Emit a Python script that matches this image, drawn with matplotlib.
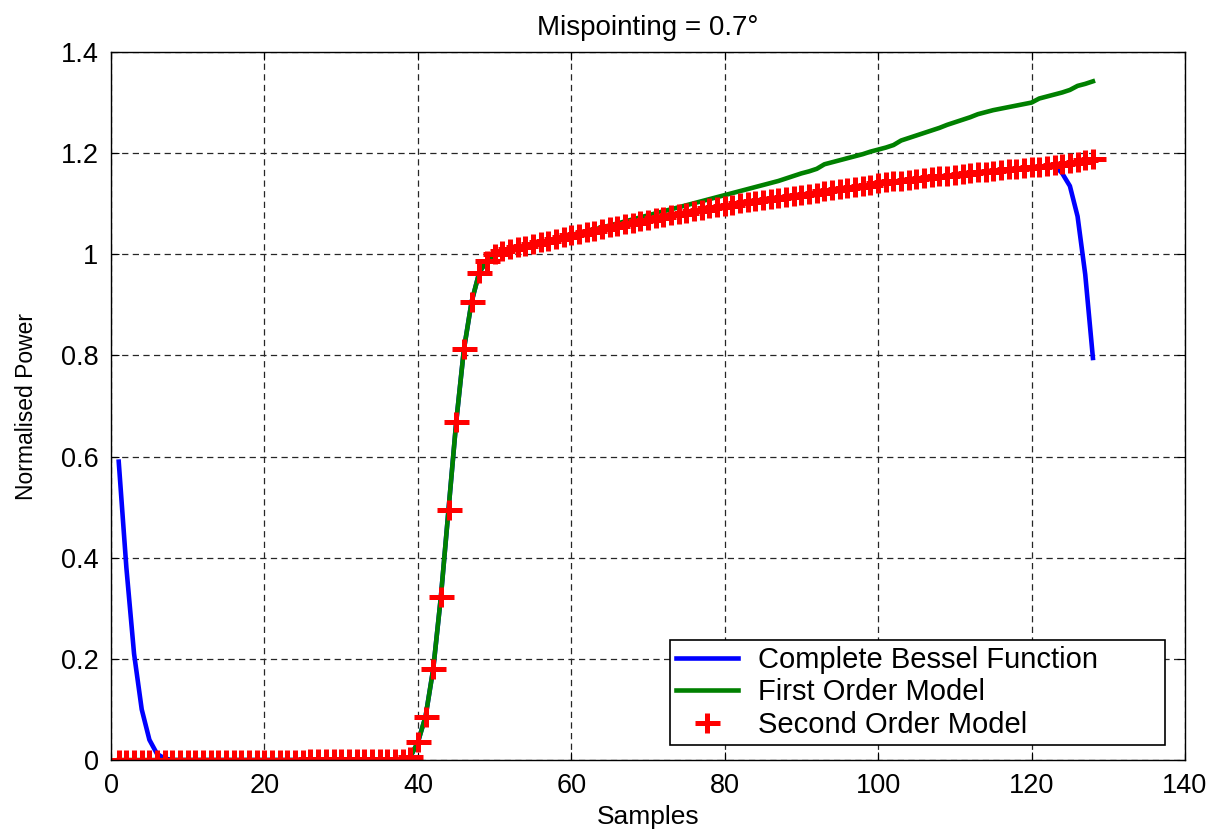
import numpy as np
import matplotlib
matplotlib.use("Agg")
import matplotlib.pyplot as plt
from matplotlib.path import Path

plt.rcParams['font.family'] = ['Liberation Sans', 'DejaVu Sans']

# --- power vs. sample index, mispointing 0.7 deg ---
samples = np.arange(1, 129)

# leading edge of the complete Bessel response (samples 1-7)
bessel_head = [0.59, 0.38, 0.21, 0.10, 0.04, 0.012, 0.003]
# noise floor before the leading edge
floor_zero = [0.0, 0.0, 0.0, 0.0, 0.0, 0.0, 0.0, 0.0, 0.0, 0.0,
              0.0, 0.0, 0.0, 0.0, 0.0, 0.0, 0.0, 0.0, 0.0, 0.0,
              0.0, 0.0, 0.0, 0.0, 0.0, 0.0, 0.0, 0.0, 0.0, 0.0,
              0.0, 0.0, 0.0, 0.0, 0.0, 0.0, 0.0, 0.0]
floor_second = [0.0, 0.0, 0.0, 0.0, 0.0, 0.0, 0.0, 0.0, 0.0, 0.0,
                0.0, 0.0, 0.0, 0.0, 0.0, 0.0, 0.0, 0.0, 0.0, 0.0,
                0.0, 0.0, 0.0, 0.0, 0.0, 0.003, 0.003, 0.003, 0.003, 0.003,
                0.003, 0.003, 0.003, 0.003, 0.003, 0.003, 0.003, 0.003]
# samples 39-49
rise = [0.006, 0.035, 0.086, 0.18, 0.323, 0.495, 0.669, 0.812, 0.906,
        0.964, 0.987]
# samples 50-123
plateau = [1.000, 1.006, 1.010, 1.014, 1.017, 1.020, 1.024, 1.027, 1.031, 1.035,
           1.038, 1.041, 1.044, 1.047, 1.050, 1.053, 1.056, 1.059, 1.062, 1.065,
           1.068, 1.071, 1.074, 1.077, 1.080, 1.082, 1.085, 1.088, 1.091, 1.093,
           1.096, 1.098, 1.101, 1.103, 1.106, 1.108, 1.110, 1.112, 1.114, 1.116,
           1.118, 1.120, 1.122, 1.125, 1.127, 1.129, 1.131, 1.133, 1.135, 1.138,
           1.140, 1.142, 1.144, 1.145, 1.147, 1.149, 1.151, 1.152, 1.154, 1.155,
           1.157, 1.159, 1.160, 1.162, 1.163, 1.165, 1.166, 1.168, 1.169, 1.171,
           1.172, 1.173, 1.175, 1.176]
# samples 124-128
bessel_tail = [1.16, 1.135, 1.075, 0.96, 0.795]
second_tail = [1.178, 1.181, 1.183, 1.186, 1.188]
# first order model, samples 61-128
first_tail = [1.042, 1.046, 1.049, 1.053, 1.057, 1.061, 1.065, 1.069, 1.073, 1.077,
              1.081, 1.085, 1.089, 1.093, 1.097, 1.101, 1.105, 1.109, 1.113, 1.117,
              1.121, 1.125, 1.129, 1.133, 1.137, 1.141, 1.145, 1.150, 1.155, 1.160,
              1.164, 1.169, 1.178, 1.182, 1.186, 1.190, 1.194, 1.198, 1.203, 1.207,
              1.211, 1.216, 1.225, 1.230, 1.235, 1.240, 1.245, 1.250, 1.256, 1.261,
              1.266, 1.271, 1.277, 1.281, 1.285, 1.288, 1.291, 1.294, 1.297, 1.300,
              1.308, 1.312, 1.316, 1.320, 1.325, 1.333, 1.337, 1.342]

bessel = bessel_head + floor_zero[:31] + rise + plateau + bessel_tail
first_order = floor_zero + rise + plateau[:11] + first_tail
second_order = floor_second + rise + plateau + second_tail

# '+' marker with a shorter vertical arm
plus = Path([(-1, 0), (1, 0), (0, -0.78), (0, 0.78)],
            [Path.MOVETO, Path.LINETO, Path.MOVETO, Path.LINETO])

fig = plt.figure(figsize=(12.11, 8.32), dpi=100)
ax = fig.add_axes([0.0917, 0.0865, 0.8868, 0.851])

ax.plot(samples, bessel, color='#0000ff', lw=3.3, label='Complete Bessel Function')
ax.plot(samples, first_order, color='#008000', lw=3.3, label='First Order Model')
ax.plot(samples, second_order, ls='none', marker=plus, ms=18, mew=3.6,
        color='#ff0000', label='Second Order Model')

ax.set_xlim(0, 140)
ax.set_ylim(0, 1.4)
ax.set_xticks(np.arange(0, 141, 20))
ax.set_yticks([0, 0.2, 0.4, 0.6, 0.8, 1, 1.2, 1.4])
ax.set_yticklabels(['0', '0.2', '0.4', '0.6', '0.8', '1', '1.2', '1.4'])
ax.tick_params(direction='in', length=6, width=0.8, top=True, right=True,
               labelsize=19.5, pad=9)
ax.grid(True, color='0.15', lw=0.9, ls=(0, (5, 3.5)))
for s in ax.spines.values():
    s.set_linewidth(1.0)

ax.set_xlabel('Samples', fontsize=19, labelpad=5)
ax.set_ylabel('Normalised Power', fontsize=16.5, labelpad=16)
ax.set_title('Mispointing = 0.7°', fontsize=20, pad=12)

leg = ax.legend(loc='lower left', bbox_to_anchor=(0.5205, 0.021, 0.4605, 0.147),
                mode='expand', fontsize=21, numpoints=1, handlelength=2.1,
                handletextpad=0.7, labelspacing=0.15, borderpad=0.22,
                borderaxespad=0, fancybox=False, framealpha=1)
leg.get_frame().set_edgecolor('black')
leg.get_frame().set_linewidth(1.2)

fig.savefig('out.png', dpi=100)
